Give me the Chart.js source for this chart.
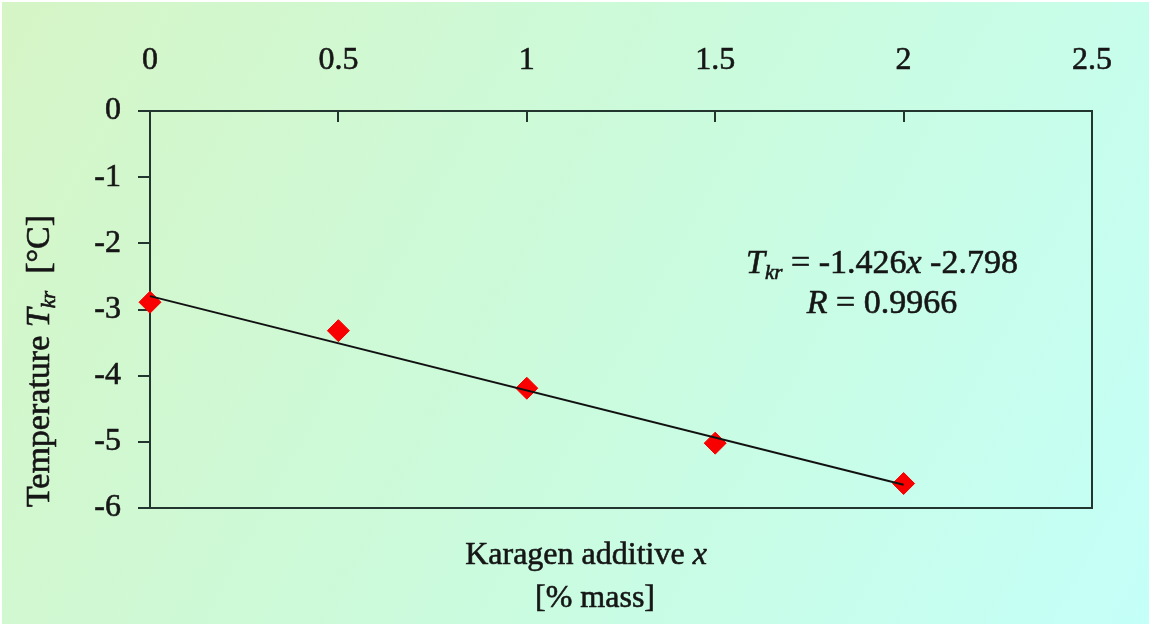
<!DOCTYPE html>
<html>
<head>
<meta charset="utf-8">
<script src="https://cdn.jsdelivr.net/npm/chart.js@4"></script>
<style>
  html, body { margin: 0; padding: 0; background: #ffffff; overflow: hidden; }
  #c { position: absolute; left: 0; top: 0; }
</style>
</head>
<body>
<canvas id="c" width="1149" height="624"></canvas>
<script>
// Measured crystallisation temperature vs. carrageenan content
const additive = [0, 0.5, 1.0, 1.5, 2.0];          // % mass
const tempKr   = [-2.89, -3.32, -4.19, -5.02, -5.63]; // °C

// Linear fit stated on the chart
const fitSlope = -1.426;
const fitIntercept = -2.798;
const fitR = 0.9966;
const fitRange = [0, 2];

// Axis tick values
const xTicks = [0, 0.5, 1, 1.5, 2, 2.5];
const yTicks = [0, -1, -2, -3, -4, -5, -6];

const SERIF = '"Liberation Serif", "Times New Roman", serif';
const INK = '#161616';
const AXIS = '#23352f';

const fitLine = fitRange.map(x => ({ x: x, y: fitSlope * x + fitIntercept }));
const points = additive.map((x, i) => ({ x: x, y: tempKr[i] }));

function fmt(n) { return n.toFixed(3); }

// Draw a run of text pieces with mixed styles, centred on cx
function drawRich(ctx, segs, cx, baseY, size) {
  const fontOf = s => (s.italic ? 'italic ' : '') + Math.round(size * (s.scale || 1)) + 'px ' + SERIF;
  let total = 0;
  segs.forEach(s => { ctx.font = fontOf(s); s.w = ctx.measureText(s.t).width; total += s.w; });
  let x = cx - total / 2;
  ctx.textAlign = 'left';
  ctx.textBaseline = 'alphabetic';
  ctx.lineWidth = 0.6;
  ctx.strokeStyle = INK;
  segs.forEach(s => {
    ctx.font = fontOf(s);
    ctx.fillText(s.t, x, baseY + (s.dy || 0));
    ctx.strokeText(s.t, x, baseY + (s.dy || 0));
    x += s.w;
  });
}

const backdrop = {
  id: 'backdrop',
  beforeDraw(chart) {
    const ctx = chart.ctx;
    const w = chart.width, h = chart.height;
    const g = ctx.createLinearGradient(0, 0, w, h);
    g.addColorStop(0, '#d6f5c6');
    g.addColorStop(0.5, '#cbfbdc');
    g.addColorStop(1, '#c4fff8');
    ctx.save();
    ctx.fillStyle = g;
    ctx.fillRect(0, 0, w, h);
    ctx.fillStyle = '#ffffff';
    ctx.fillRect(0, 0, w, 2);
    ctx.fillRect(0, 0, 2, h);
    ctx.restore();
  }
};

const frame = {
  id: 'frame',
  afterDatasetsDraw(chart) {
    const ctx = chart.ctx;
    const a = chart.chartArea;
    const xs = chart.scales.x;
    ctx.save();
    ctx.strokeStyle = AXIS;
    ctx.lineWidth = 2;
    ctx.beginPath();
    ctx.moveTo(a.right, a.top);
    ctx.lineTo(a.right, a.bottom);
    ctx.lineTo(a.left, a.bottom);
    ctx.stroke();
    // inward tick marks on the top axis
    ctx.beginPath();
    xTicks.forEach(v => {
      const px = Math.round(xs.getPixelForValue(v));
      ctx.moveTo(px, a.top);
      ctx.lineTo(px, a.top + 11);
    });
    ctx.stroke();
    ctx.restore();
  },
  afterDraw(chart) {
    const ctx = chart.ctx;
    ctx.save();
    ctx.fillStyle = INK;
    // fit equation
    drawRich(ctx, [
      { t: 'T', italic: true },
      { t: 'kr', italic: true, scale: 0.62, dy: 6 },
      { t: ' = ' + fmt(fitSlope) },
      { t: 'x', italic: true },
      { t: ' ' + fmt(fitIntercept) }
    ], 882, 273, 34);
    drawRich(ctx, [
      { t: 'R', italic: true },
      { t: ' = ' + fitR.toFixed(4) }
    ], 882, 313, 34);
    // x axis title
    drawRich(ctx, [
      { t: 'Karagen additive ' },
      { t: 'x', italic: true }
    ], 586, 564, 32);
    drawRich(ctx, [{ t: '[% mass]' }], 595, 607, 32);
    // y axis title
    ctx.translate(49, 361);
    ctx.rotate(-Math.PI / 2);
    drawRich(ctx, [
      { t: 'Temperature ' },
      { t: 'T', italic: true },
      { t: 'kr', italic: true, scale: 0.62, dy: 6 },
      { t: '  [°C]' }
    ], 0, 0, 34);
    ctx.restore();
  }
};

const tickFont = { family: SERIF, size: 32 };

new Chart(document.getElementById('c'), {
  type: 'scatter',
  data: {
    datasets: [
      {
        type: 'line',
        label: 'fit',
        data: fitLine,
        borderColor: '#111111',
        borderWidth: 2,
        pointRadius: 0,
        fill: false,
        order: 0,
        clip: false
      },
      {
        label: 'T_kr',
        data: points,
        pointStyle: 'rectRot',
        pointRadius: 11,
        pointHoverRadius: 11,
        backgroundColor: '#f80000',
        borderColor: '#f80000',
        borderWidth: 1,
        order: 1,
        clip: false
      }
    ]
  },
  options: {
    responsive: false,
    animation: false,
    events: [],
    layout: { padding: { left: 0, top: 0, right: 57, bottom: 116 } },
    plugins: {
      legend: { display: false },
      tooltip: { enabled: false }
    },
    scales: {
      x: {
        type: 'linear',
        position: 'top',
        min: xTicks[0],
        max: xTicks[xTicks.length - 1],
        afterBuildTicks: s => { s.ticks = xTicks.map(v => ({ value: v })); },
        afterFit: s => { s.height = 111; },
        grid: { drawOnChartArea: false, drawTicks: false },
        border: { display: true, color: AXIS, width: 2 },
        ticks: {
          padding: 31,
          color: INK,
          textStrokeColor: INK,
          textStrokeWidth: 0.6,
          font: tickFont,
          callback: v => String(v)
        }
      },
      y: {
        type: 'linear',
        min: yTicks[yTicks.length - 1],
        max: yTicks[0],
        afterBuildTicks: s => { s.ticks = yTicks.slice().reverse().map(v => ({ value: v })); },
        afterFit: s => { s.width = 150; },
        grid: { drawOnChartArea: false, drawTicks: true, tickLength: 12, color: AXIS, lineWidth: 2 },
        border: { display: true, color: AXIS, width: 2 },
        ticks: {
          padding: 17,
          color: INK,
          textStrokeColor: INK,
          textStrokeWidth: 0.6,
          font: tickFont,
          callback: v => String(v)
        }
      }
    }
  },
  plugins: [backdrop, frame]
});
</script>
</body>
</html>
